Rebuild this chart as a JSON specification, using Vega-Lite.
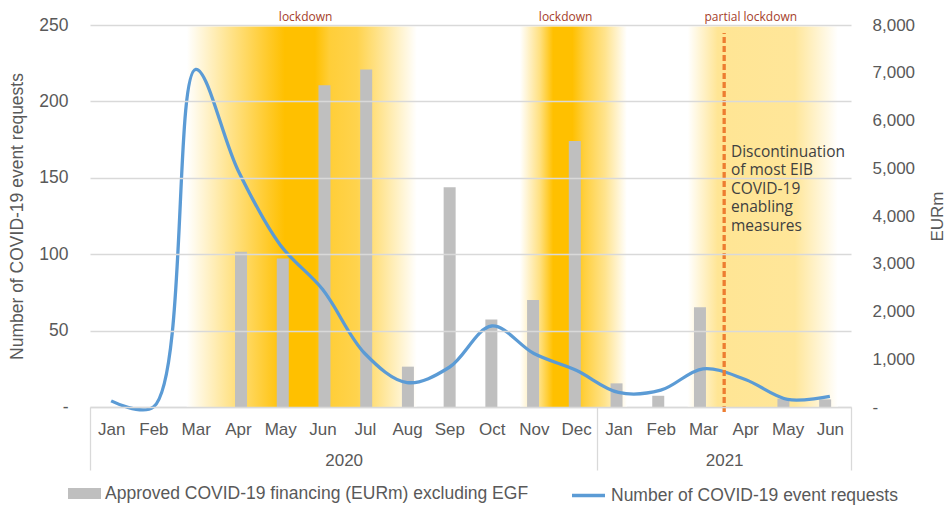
{
  "$schema": "https://vega.github.io/schema/vega-lite/v6.json",
  "width": 761,
  "height": 382,
  "autosize": {"type": "none"},
  "padding": {"left": 90, "top": 25, "right": 95, "bottom": 98},
  "background": "white",
  "config": {"view": {"stroke": null}, "font": "Liberation Sans"},
  "datasets": {
    "monthly": [
      {"idx": 0, "month": "Jan", "year": 2020, "requests": 4, "financing": null},
      {"idx": 1, "month": "Feb", "year": 2020, "requests": 0, "financing": null},
      {"idx": 2, "month": "Mar", "year": 2020, "requests": 221, "financing": null},
      {"idx": 3, "month": "Apr", "year": 2020, "requests": 155, "financing": 3250},
      {"idx": 4, "month": "May", "year": 2020, "requests": 106, "financing": 3110},
      {"idx": 5, "month": "Jun", "year": 2020, "requests": 77, "financing": 6740},
      {"idx": 6, "month": "Jul", "year": 2020, "requests": 35, "financing": 7070},
      {"idx": 7, "month": "Aug", "year": 2020, "requests": 16, "financing": 845},
      {"idx": 8, "month": "Sep", "year": 2020, "requests": 26, "financing": 4600},
      {"idx": 9, "month": "Oct", "year": 2020, "requests": 53, "financing": 1835},
      {"idx": 10, "month": "Nov", "year": 2020, "requests": 35, "financing": 2240},
      {"idx": 11, "month": "Dec", "year": 2020, "requests": 24, "financing": 5570},
      {"idx": 12, "month": "Jan", "year": 2021, "requests": 9.5, "financing": 495},
      {"idx": 13, "month": "Feb", "year": 2021, "requests": 11, "financing": 235},
      {"idx": 14, "month": "Mar", "year": 2021, "requests": 25, "financing": 2090},
      {"idx": 15, "month": "Apr", "year": 2021, "requests": 18, "financing": null},
      {"idx": 16, "month": "May", "year": 2021, "requests": 5, "financing": 175},
      {"idx": 17, "month": "Jun", "year": 2021, "requests": 7, "financing": 160}
    ]
  },
  "layer": [
    {
      "data": {"values": [{"period": "lockdown (spring 2020)", "start": 1.79, "end": 7.23}]},
      "mark": {
        "type": "rect",
        "fill": {
          "gradient": "linear", "x1": 0, "x2": 1, "y1": 0, "y2": 0,
          "stops": [
            {"offset": 0, "color": "#FFFFFF"},
            {"offset": 0.187, "color": "#FFE38C"},
            {"offset": 0.36, "color": "#FFC926"},
            {"offset": 0.426, "color": "#FFC000"},
            {"offset": 0.557, "color": "#FFC000"},
            {"offset": 0.62, "color": "#FFCE38"},
            {"offset": 0.74, "color": "#FFD34D"},
            {"offset": 0.817, "color": "#FFE080"},
            {"offset": 1, "color": "#FFFFFF"}
          ]
        }
      },
      "encoding": {
        "x": {"field": "start", "type": "quantitative", "scale": {"domain": [-0.5, 17.5], "nice": false, "zero": false}, "axis": null},
        "x2": {"field": "end"},
        "y": {"datum": 0, "type": "quantitative", "scale": {"domain": [0, 250], "nice": false}, "axis": null},
        "y2": {"datum": 249}
      }
    },
    {
      "data": {"values": [{"period": "lockdown (winter 2020)", "start": 9.67, "end": 12.2}]},
      "mark": {
        "type": "rect",
        "fill": {
          "gradient": "linear", "x1": 0, "x2": 1, "y1": 0, "y2": 0,
          "stops": [
            {"offset": 0, "color": "#FFFFFF"},
            {"offset": 0.187, "color": "#FFE080"},
            {"offset": 0.31, "color": "#FFC000"},
            {"offset": 0.49, "color": "#FFC000"},
            {"offset": 0.607, "color": "#FFD040"},
            {"offset": 0.794, "color": "#FFE38C"},
            {"offset": 1, "color": "#FFFFFF"}
          ]
        }
      },
      "encoding": {
        "x": {"field": "start", "type": "quantitative", "scale": {"domain": [-0.5, 17.5], "nice": false, "zero": false}, "axis": null},
        "x2": {"field": "end"},
        "y": {"datum": 0, "type": "quantitative", "scale": {"domain": [0, 250], "nice": false}, "axis": null},
        "y2": {"datum": 249}
      }
    },
    {
      "data": {"values": [{"period": "partial lockdown (2021)", "start": 13.64, "end": 17.19}]},
      "mark": {
        "type": "rect",
        "fill": {
          "gradient": "linear", "x1": 0, "x2": 1, "y1": 0, "y2": 0,
          "stops": [
            {"offset": 0, "color": "#FFFFFF"},
            {"offset": 0.2, "color": "#FFE594"},
            {"offset": 0.713, "color": "#FFE699"},
            {"offset": 1, "color": "#FFFFFF"}
          ]
        }
      },
      "encoding": {
        "x": {"field": "start", "type": "quantitative", "scale": {"domain": [-0.5, 17.5], "nice": false, "zero": false}, "axis": null},
        "x2": {"field": "end"},
        "y": {"datum": 0, "type": "quantitative", "scale": {"domain": [0, 250], "nice": false}, "axis": null},
        "y2": {"datum": 249}
      }
    },
    {
      "data": {"name": "monthly"},
      "mark": {"type": "bar", "width": 12},
      "encoding": {
        "x": {"field": "idx", "type": "quantitative", "scale": {"domain": [-0.5, 17.5], "nice": false, "zero": false}, "axis": null},
        "y": {
          "field": "financing", "type": "quantitative",
          "scale": {"domain": [0, 8000], "nice": false},
          "axis": {
            "orient": "right",
            "values": [0, 1000, 2000, 3000, 4000, 5000, 6000, 7000, 8000],
            "labelExpr": "datum.value == 0 ? '-' : format(datum.value, ',')",
            "grid": false, "domain": false, "ticks": false, "tickSize": 0,
            "labelPadding": 21, "labelFontSize": 17, "labelColor": "#595959",
            "title": "EURm", "titleAngle": -90, "titleFontSize": 17, "titleFontWeight": "normal",
            "titleColor": "#595959", "titlePadding": 32
          }
        },
        "color": {
          "datum": "Approved COVID-19 financing (EURm) excluding EGF",
          "scale": {"range": ["#BFBFBF"]},
          "legend": {
            "orient": "none", "legendX": -22, "legendY": 452, "title": null,
            "symbolType": "M-1,-0.33H1V0.33H-1Z", "symbolSize": 1089, "symbolStrokeWidth": 0,
            "labelFontSize": 17.5, "labelColor": "#595959", "labelLimit": 600
          }
        }
      }
    },
    {
      "data": {"name": "monthly"},
      "mark": {"type": "line", "interpolate": "catmull-rom", "strokeWidth": 3.3},
      "encoding": {
        "x": {
          "field": "idx", "type": "quantitative",
          "scale": {"domain": [-0.5, 17.5], "nice": false, "zero": false},
          "axis": {
            "orient": "bottom",
            "values": [0, 1, 2, 3, 4, 5, 6, 7, 8, 9, 10, 11, 12, 13, 14, 15, 16, 17],
            "labelExpr": "['Jan','Feb','Mar','Apr','May','Jun','Jul','Aug','Sep','Oct','Nov','Dec'][datum.value % 12]",
            "ticks": false, "tickSize": 0, "domain": true, "domainColor": "#D9D9D9", "domainWidth": 1.3,
            "grid": false, "labelPadding": 14, "labelFontSize": 17, "labelColor": "#595959",
            "labelFlush": false, "labelOverlap": false, "labelBound": false, "title": null
          }
        },
        "y": {
          "field": "requests", "type": "quantitative",
          "scale": {"domain": [0, 250], "nice": false},
          "axis": {
            "orient": "left",
            "values": [0, 50, 100, 150, 200, 250],
            "labelExpr": "datum.value == 0 ? '-\u00a0\u00a0' : datum.label",
            "grid": true, "gridColor": "#D9D9D9", "gridWidth": 1.3,
            "domain": false, "ticks": false, "tickSize": 0,
            "labelPadding": 22, "labelFontSize": 17.5, "labelColor": "#595959",
            "title": "Number of COVID-19 event requests", "titleFontSize": 17.5, "titleFontWeight": "normal",
            "titleColor": "#595959", "titlePadding": 12, "zindex": 1
          }
        },
        "stroke": {
          "datum": "Number of COVID-19 event requests",
          "scale": {"range": ["#5B9BD5"]},
          "legend": {
            "orient": "none", "legendX": 480, "legendY": 452, "title": null,
            "symbolType": "stroke", "symbolSize": 1089, "symbolStrokeWidth": 3.3,
            "labelFontSize": 17.5, "labelColor": "#595959", "labelLimit": 600
          }
        }
      }
    },
    {
      "data": {"values": [{"event": "Discontinuation of most EIB COVID-19 enabling measures", "idx": 14.5}]},
      "mark": {"type": "rule", "color": "#ED7D31", "strokeWidth": 3.3, "strokeDash": [6, 3]},
      "encoding": {
        "x": {
          "field": "idx", "type": "quantitative",
          "scale": {"domain": [-0.5, 17.5], "nice": false, "zero": false},
          "axis": {
            "orient": "bottom",
            "values": [-0.5, 5.5, 11.5, 14.5, 17.5],
            "labelExpr": "datum.value == 5.5 ? '2020' : (datum.value == 14.5 ? '2021' : '')",
            "domain": false, "ticks": true, "tickSize": 63, "tickColor": "#D9D9D9", "tickWidth": 1.3,
            "tickOpacity": {"condition": {"test": "datum.value == 5.5 || datum.value == 14.5", "value": 0}, "value": 1},
            "grid": false, "labelPadding": -18, "labelFontSize": 17, "labelColor": "#595959",
            "labelFlush": false, "labelOverlap": false, "labelBound": false, "title": null
          }
        },
        "y": {"datum": -3.3, "type": "quantitative", "scale": {"domain": [0, 250], "nice": false}, "axis": null},
        "y2": {"datum": 244.8}
      }
    },
    {
      "data": {"values": [
        {"label": "lockdown", "idx": 4.6},
        {"label": "lockdown", "idx": 10.75},
        {"label": "partial lockdown", "idx": 15.13}
      ]},
      "mark": {"type": "text", "font": "Open Sans", "fontSize": 12, "color": "#A5402A", "baseline": "middle", "align": "center"},
      "encoding": {
        "x": {"field": "idx", "type": "quantitative", "scale": {"domain": [-0.5, 17.5], "nice": false, "zero": false}, "axis": null},
        "y": {"datum": 255.4, "type": "quantitative", "scale": {"domain": [0, 250], "nice": false}, "axis": null},
        "text": {"field": "label"}
      }
    },
    {
      "data": {"values": [
        {"note": ["Discontinuation", "of most EIB", "COVID-19", "enabling", "measures"], "idx": 14.66}
      ]},
      "mark": {"type": "text", "font": "Open Sans", "fontSize": 15.5, "lineHeight": 18.5, "color": "#404040", "baseline": "top", "align": "left"},
      "encoding": {
        "x": {"field": "idx", "type": "quantitative", "scale": {"domain": [-0.5, 17.5], "nice": false, "zero": false}, "axis": null},
        "y": {"datum": 171.5, "type": "quantitative", "scale": {"domain": [0, 250], "nice": false}, "axis": null},
        "text": {"field": "note"}
      }
    }
  ],
  "resolve": {"scale": {"x": "independent", "y": "independent", "color": "independent", "stroke": "independent"}}
}
